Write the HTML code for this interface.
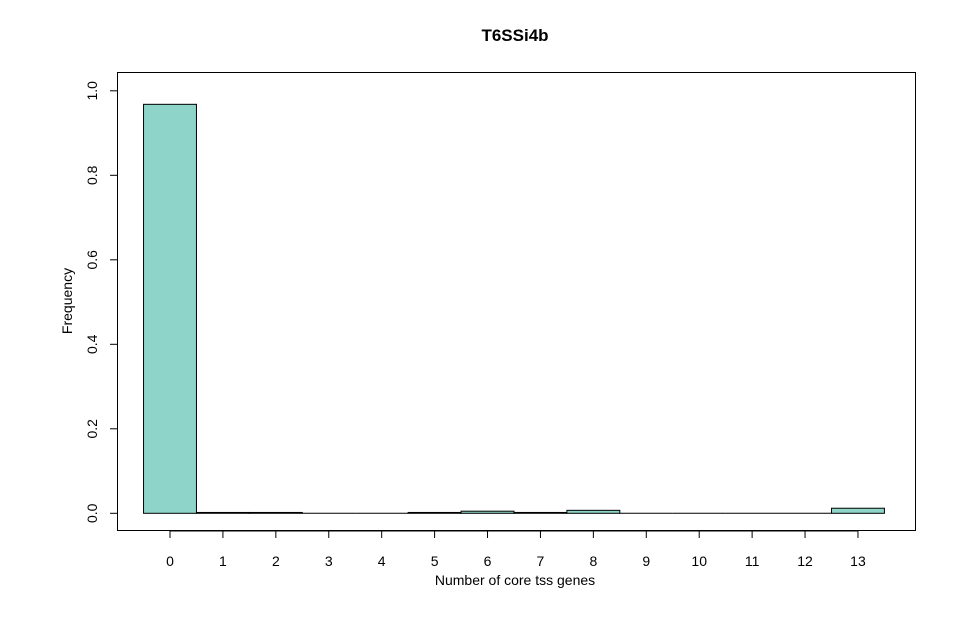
<!DOCTYPE html>
<html><head><meta charset="utf-8"><style>body{margin:0;background:#fff}svg{display:block;font-family:"Liberation Sans",Arial,sans-serif}</style></head>
<body>
<svg id="c" width="973" height="621"></svg>
<script>
const categories=[0,1,2,3,4,5,6,7,8,9,10,11,12,13];
const frequencies=[0.968,0.002,0.002,0,0,0.002,0.005,0.002,0.007,0,0,0,0,0.012];
const yTicks=[0,0.2,0.4,0.6,0.8,1.0];
const yTickLabels=["0.0","0.2","0.4","0.6","0.8","1.0"];
const svg=document.getElementById('c');
const NS='http://www.w3.org/2000/svg';
function X(i){return 170+i*52.92;}
function Y(v){return 513.3-v*422.5;}
function add(tag,attrs,text){const e=document.createElementNS(NS,tag);for(const k in attrs)e.setAttribute(k,attrs[k]);if(text!==undefined)e.textContent=text;svg.appendChild(e);return e;}
let t=add('text',{x:515,y:41,'text-anchor':'middle','font-size':17,'font-weight':'bold'},'T6SSi4b');


categories.forEach((c,i)=>{
 const v=frequencies[i];
 if(v>0){
 const r=add('rect',{x:X(i)-26.46,y:Y(v),width:52.92,height:Y(0)-Y(v),fill:'#8fd4c8',stroke:'#000','stroke-width':1});
 
 
 } else {
 const l=add('line',{x1:X(i)-26.46,x2:X(i)+26.46,y1:Y(0),y2:Y(0),stroke:'#000','stroke-width':1});
 
 
 }
 const tk=add('line',{x1:X(i),x2:X(i),y1:531,y2:538,stroke:'#000'});
 
 
 const tl=add('text',{x:X(i),y:566,'text-anchor':'middle','font-size':14},String(c));
 
 
});
const xa=add('line',{x1:X(0),x2:X(13),y1:531,y2:531,stroke:'#000'});


const box=add('rect',{x:117.5,y:72.5,width:798,height:458,fill:'none',stroke:'#000'});


const ya=add('line',{x1:117.5,x2:117.5,y1:Y(0),y2:Y(1)});


yTicks.forEach((v,i)=>{
 const tk=add('line',{x1:110,x2:117.5,y1:Y(v),y2:Y(v),stroke:'#000'});
 
 
 const tl=add('text',{x:97,y:Y(v),'text-anchor':'middle','font-size':14,transform:`rotate(-90 97 ${Y(v)})`},yTickLabels[i]);
 
 
});
const xt=add('text',{x:515,y:585,'text-anchor':'middle','font-size':14},'Number of core tss genes');


const yt=add('text',{x:72,y:301,'text-anchor':'middle','font-size':14,transform:'rotate(-90 72 301)'},'Frequency');


</script>
</body></html>
